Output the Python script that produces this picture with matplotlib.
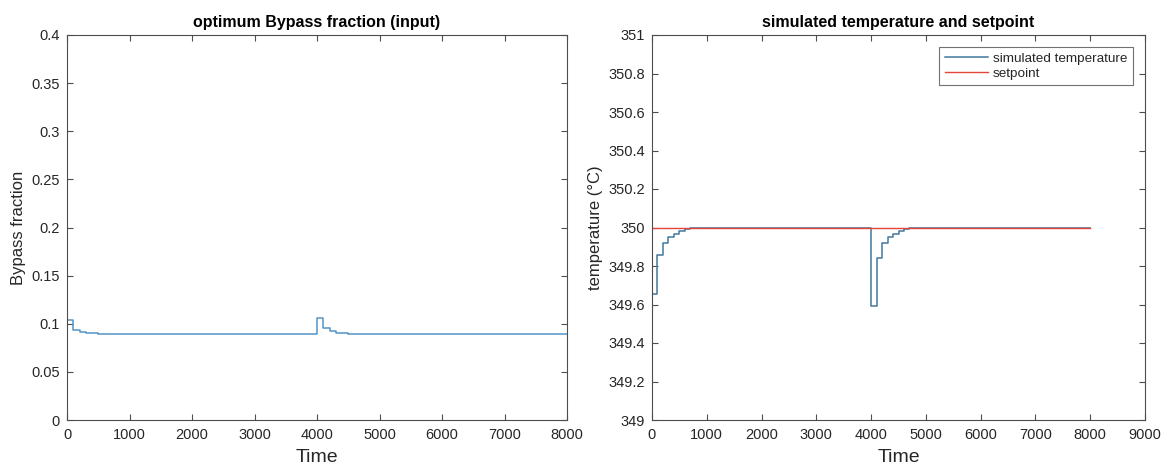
import matplotlib
matplotlib.use("Agg")
import matplotlib.pyplot as plt
from matplotlib.ticker import FuncFormatter

plt.rcParams['font.family'] = ['Liberation Sans', 'DejaVu Sans']

# ---- data ----
time_knots = [0, 100, 200, 300, 400, 500, 600, 700,
              4000, 4100, 4200, 4300, 4400, 4500, 4600, 4700, 8000]
bypass_fraction = [0.1035, 0.0940, 0.0915, 0.0905, 0.0900, 0.0897, 0.0895, 0.0894,
                   0.1060, 0.0960, 0.0920, 0.0908, 0.0901, 0.0897, 0.0895, 0.0894, 0.0894]
sim_temperature = [349.655, 349.855, 349.92, 349.95, 349.968, 349.982, 349.992, 349.998,
                   349.59, 349.84, 349.92, 349.95, 349.968, 349.982, 349.992, 349.998, 350.0]
setpoint_time = [0, 8000]
setpoint_value = [350.0, 350.0]

left_yticks = [0, 0.05, 0.1, 0.15, 0.2, 0.25, 0.3, 0.35, 0.4]
left_xticks = [0, 1000, 2000, 3000, 4000, 5000, 6000, 7000, 8000]
right_yticks = [349, 349.2, 349.4, 349.6, 349.8, 350, 350.2, 350.4, 350.6, 350.8, 351]
right_xticks = [0, 1000, 2000, 3000, 4000, 5000, 6000, 7000, 8000, 9000]

# ---- figure ----
fig = plt.figure(figsize=(11.71, 4.75), dpi=100)
W, H = 1171, 475
bot, top = 420, 35
axL = fig.add_axes([67 / W, (H - bot) / H, (567 - 67) / W, (bot - top) / H])
axR = fig.add_axes([652 / W, (H - bot) / H, (1145 - 652) / W, (bot - top) / H])

axis_col = '#4d4d4d'
text_col = '#262626'
fmt = FuncFormatter(lambda v, p: ('%g' % round(v, 4)))

for ax in (axL, axR):
    for s in ax.spines.values():
        s.set_color(axis_col)
        s.set_linewidth(0.8)
    ax.tick_params(direction='in', top=True, right=True, length=4, width=0.8,
                   color=axis_col, labelcolor=text_col, labelsize=10.5)
    ax.tick_params(axis='x', pad=6)
    ax.tick_params(axis='y', pad=5)
    ax.yaxis.set_major_formatter(fmt)
    ax.xaxis.set_major_formatter(fmt)

# left plot
axL.plot(time_knots, bypass_fraction, drawstyle='steps-post', color='#5393c8', lw=1.1)
axL.set_xlim(0, 8000)
axL.set_ylim(0, 0.4)
axL.set_xticks(left_xticks)
axL.set_yticks(left_yticks)
axL.set_xlabel('Time', fontsize=14, color=text_col, labelpad=5)
axL.set_ylabel('Bypass fraction', fontsize=12, color=text_col, labelpad=4)
axL.set_title('optimum Bypass fraction (input)', fontsize=11.5, fontweight='bold',
              color='black', pad=6)

# right plot
axR.plot(time_knots, sim_temperature, drawstyle='steps-post', color='#41789c', lw=1.1,
         label='simulated temperature')
axR.plot(setpoint_time, setpoint_value, color='#e2463a', lw=1.0, label='setpoint')
axR.set_xlim(0, 9000)
axR.set_ylim(349, 351)
axR.set_xticks(right_xticks)
axR.set_yticks(right_yticks)
axR.set_xlabel('Time', fontsize=14, color=text_col, labelpad=5)
axR.set_ylabel('temperature (°C)', fontsize=12, color=text_col, labelpad=4)
axR.set_title('simulated temperature and setpoint', fontsize=11.5, fontweight='bold',
              color='black', pad=6)
leg = axR.legend(loc='upper right', fontsize=9.7, frameon=True, fancybox=False,
                 edgecolor=axis_col, handlelength=3.2, borderaxespad=0.9,
                 labelspacing=0.2, handletextpad=0.4, borderpad=0.4)
leg.get_frame().set_linewidth(0.8)
for t in leg.get_texts():
    t.set_color(text_col)

fig.savefig('out.png', dpi=100, facecolor='white')
